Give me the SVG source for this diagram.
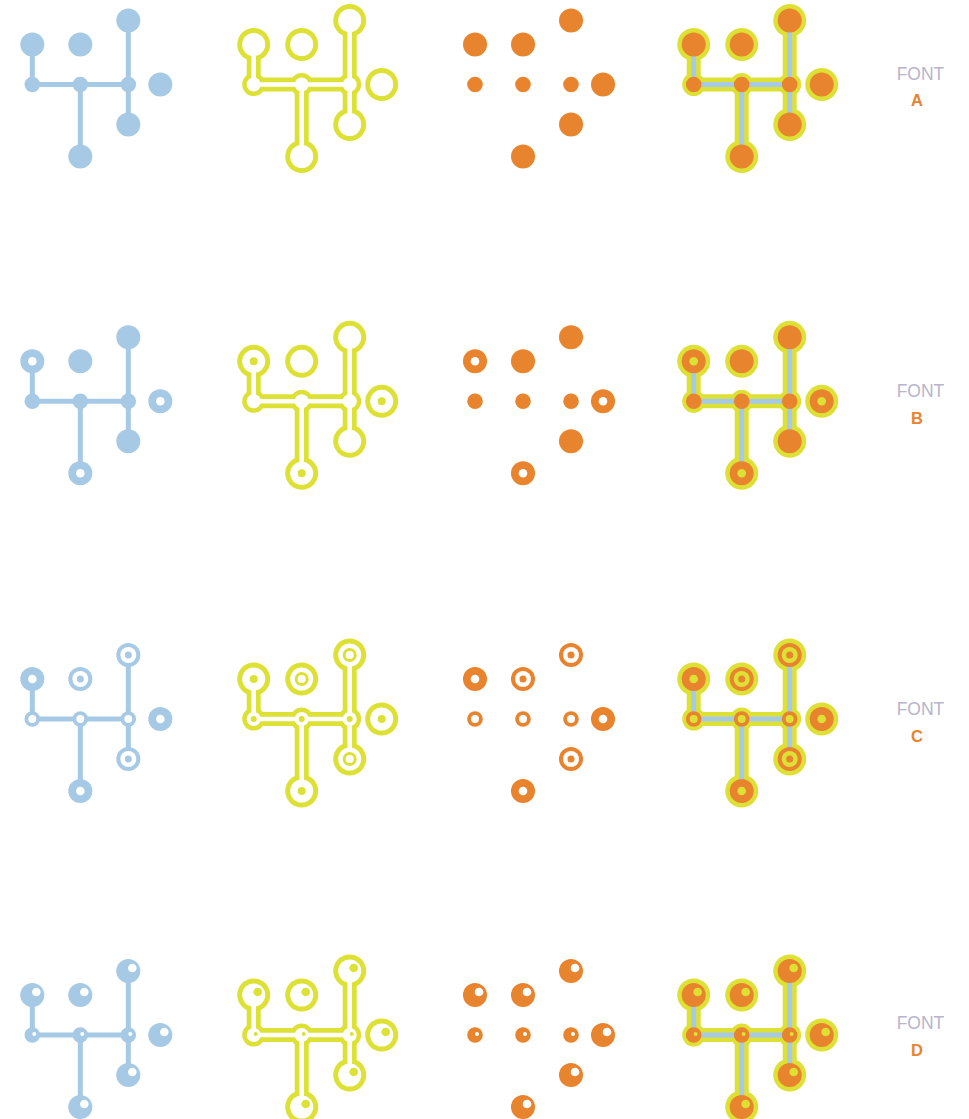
<svg xmlns="http://www.w3.org/2000/svg" xmlns:xlink="http://www.w3.org/1999/xlink" width="969" height="1119" viewBox="0 0 969 1119">
<style>
.bl{color:#a6c9e5;--h:#ffffff}
.or{color:#e8832e;--h:#ffffff}
.cb{color:#e8832e;--h:#dde135}
.yd{fill:#dde135}
.lbl{font-family:"Liberation Sans",Arial,sans-serif;font-size:17.5px;fill:#b8b4cc;text-anchor:middle}
.let{font-family:"Liberation Sans",Arial,sans-serif;font-size:16.5px;font-weight:bold;fill:#e8832e;text-anchor:middle}
</style>
<defs>
<g id="u">
<path d="M0,24V64M0,64H96M48,64V136M96,0V104" stroke="#dde135" stroke-width="14" fill="none"/>
<g fill="#dde135">
<circle cx="0" cy="24" r="16.5"/><circle cx="48" cy="24" r="16.5"/><circle cx="96" cy="0" r="16.5"/>
<circle cx="128" cy="64" r="16.5"/><circle cx="96" cy="104" r="16.5"/><circle cx="48" cy="136" r="16.5"/>
<circle cx="0" cy="64" r="11.5"/><circle cx="48" cy="64" r="11.5"/><circle cx="96" cy="64" r="11.5"/>
</g>
</g>
<g id="w">
<path d="M0,24V64M0,64H96M48,64V136M96,0V104" stroke="#ffffff" stroke-width="4.5" fill="none"/>
<g fill="#ffffff">
<circle cx="0" cy="24" r="11.5"/><circle cx="48" cy="24" r="11.5"/><circle cx="96" cy="0" r="11.5"/>
<circle cx="128" cy="64" r="11.5"/><circle cx="96" cy="104" r="11.5"/><circle cx="48" cy="136" r="11.5"/>
<circle cx="0" cy="64" r="7"/><circle cx="48" cy="64" r="7"/><circle cx="96" cy="64" r="7"/>
</g>
</g>
<path id="e" d="M0,24V64M0,64H96M48,64V136M96,0V104" stroke="#a6c9e5" stroke-width="5" fill="none"/>
<circle id="big" r="12" fill="currentColor"/>
<circle id="jn" r="7.8" fill="currentColor"/>
<g id="ring"><circle r="12" fill="currentColor"/><circle r="4.3" style="fill:var(--h)"/></g>
<g id="rdot"><circle r="12" fill="currentColor"/><circle r="8" style="fill:var(--h)"/><circle r="3.5" fill="currentColor"/></g>
<g id="jring"><circle r="7.8" fill="currentColor"/><circle r="4" style="fill:var(--h)"/></g>
<g id="hl"><circle r="12" fill="currentColor"/><circle cx="4" cy="-3" r="4.3" style="fill:var(--h)"/></g>
<g id="hlj"><circle r="7.8" fill="currentColor"/><circle cx="2" cy="-1" r="2" style="fill:var(--h)"/></g>
<circle id="yring" r="4" class="yd"/>
<circle id="yjr" r="3" class="yd"/>
<circle id="yrd" r="5.5" fill="none" stroke="#dde135" stroke-width="3"/>
<circle id="yhl" cx="4" cy="-3" r="4.3" class="yd"/>
<circle id="yhlj" cx="2" cy="-1" r="2" class="yd"/>
</defs>
<rect width="969" height="1119" fill="#ffffff"/>

<!-- ROW A -->
<g id="A-blue" class="bl" transform="translate(32.3,20.5)">
<g id="A-blue-connectors"><use href="#e"/></g>
<g id="A-blue-n1"><use href="#big" x="0" y="24"/></g>
<g id="A-blue-n2"><use href="#big" x="48" y="24"/></g>
<g id="A-blue-n3"><use href="#big" x="96" y="0"/></g>
<g id="A-blue-j1"><use href="#jn" x="0" y="64"/></g>
<g id="A-blue-j2"><use href="#jn" x="48" y="64"/></g>
<g id="A-blue-j3"><use href="#jn" x="96" y="64"/></g>
<g id="A-blue-n4"><use href="#big" x="128" y="64"/></g>
<g id="A-blue-n5"><use href="#big" x="96" y="104"/></g>
<g id="A-blue-n6"><use href="#big" x="48" y="136"/></g>
</g>
<g id="A-yellow" transform="translate(253.7,20.5)">
<g id="A-yellow-connectors"><use href="#u"/><use href="#w"/></g>
</g>
<g id="A-orange" class="or" transform="translate(475,20.5)">
<g id="A-orange-n1"><use href="#big" x="0" y="24"/></g>
<g id="A-orange-n2"><use href="#big" x="48" y="24"/></g>
<g id="A-orange-n3"><use href="#big" x="96" y="0"/></g>
<g id="A-orange-j1"><use href="#jn" x="0" y="64"/></g>
<g id="A-orange-j2"><use href="#jn" x="48" y="64"/></g>
<g id="A-orange-j3"><use href="#jn" x="96" y="64"/></g>
<g id="A-orange-n4"><use href="#big" x="128" y="64"/></g>
<g id="A-orange-n5"><use href="#big" x="96" y="104"/></g>
<g id="A-orange-n6"><use href="#big" x="48" y="136"/></g>
</g>
<g id="A-combined" class="cb" transform="translate(693.7,20.5)">
<g id="A-combined-connectors"><use href="#u"/><use href="#e"/></g>
<g id="A-combined-n1"><use href="#big" x="0" y="24"/></g>
<g id="A-combined-n2"><use href="#big" x="48" y="24"/></g>
<g id="A-combined-n3"><use href="#big" x="96" y="0"/></g>
<g id="A-combined-j1"><use href="#jn" x="0" y="64"/></g>
<g id="A-combined-j2"><use href="#jn" x="48" y="64"/></g>
<g id="A-combined-j3"><use href="#jn" x="96" y="64"/></g>
<g id="A-combined-n4"><use href="#big" x="128" y="64"/></g>
<g id="A-combined-n5"><use href="#big" x="96" y="104"/></g>
<g id="A-combined-n6"><use href="#big" x="48" y="136"/></g>
</g>
<g id="A-label"><text class="lbl" x="920.5" y="79.5">FONT</text><text class="let" x="917" y="106">A</text></g>

<!-- ROW B -->
<g id="B-blue" class="bl" transform="translate(32.3,337.3)">
<g id="B-blue-connectors"><use href="#e"/></g>
<g id="B-blue-n1"><use href="#ring" x="0" y="24"/></g>
<g id="B-blue-n2"><use href="#big" x="48" y="24"/></g>
<g id="B-blue-n3"><use href="#big" x="96" y="0"/></g>
<g id="B-blue-j1"><use href="#jn" x="0" y="64"/></g>
<g id="B-blue-j2"><use href="#jn" x="48" y="64"/></g>
<g id="B-blue-j3"><use href="#jn" x="96" y="64"/></g>
<g id="B-blue-n4"><use href="#ring" x="128" y="64"/></g>
<g id="B-blue-n5"><use href="#big" x="96" y="104"/></g>
<g id="B-blue-n6"><use href="#ring" x="48" y="136"/></g>
</g>
<g id="B-yellow" transform="translate(253.7,337.3)">
<g id="B-yellow-connectors"><use href="#u"/><use href="#w"/></g>
<g id="B-yellow-n1"><use href="#yring" x="0" y="24"/></g>
<g id="B-yellow-n4"><use href="#yring" x="128" y="64"/></g>
<g id="B-yellow-n6"><use href="#yring" x="48" y="136"/></g>
</g>
<g id="B-orange" class="or" transform="translate(475,337.3)">
<g id="B-orange-n1"><use href="#ring" x="0" y="24"/></g>
<g id="B-orange-n2"><use href="#big" x="48" y="24"/></g>
<g id="B-orange-n3"><use href="#big" x="96" y="0"/></g>
<g id="B-orange-j1"><use href="#jn" x="0" y="64"/></g>
<g id="B-orange-j2"><use href="#jn" x="48" y="64"/></g>
<g id="B-orange-j3"><use href="#jn" x="96" y="64"/></g>
<g id="B-orange-n4"><use href="#ring" x="128" y="64"/></g>
<g id="B-orange-n5"><use href="#big" x="96" y="104"/></g>
<g id="B-orange-n6"><use href="#ring" x="48" y="136"/></g>
</g>
<g id="B-combined" class="cb" transform="translate(693.7,337.3)">
<g id="B-combined-connectors"><use href="#u"/><use href="#e"/></g>
<g id="B-combined-n1"><use href="#ring" x="0" y="24"/></g>
<g id="B-combined-n2"><use href="#big" x="48" y="24"/></g>
<g id="B-combined-n3"><use href="#big" x="96" y="0"/></g>
<g id="B-combined-j1"><use href="#jn" x="0" y="64"/></g>
<g id="B-combined-j2"><use href="#jn" x="48" y="64"/></g>
<g id="B-combined-j3"><use href="#jn" x="96" y="64"/></g>
<g id="B-combined-n4"><use href="#ring" x="128" y="64"/></g>
<g id="B-combined-n5"><use href="#big" x="96" y="104"/></g>
<g id="B-combined-n6"><use href="#ring" x="48" y="136"/></g>
</g>
<g id="B-label"><text class="lbl" x="920.5" y="397">FONT</text><text class="let" x="917" y="424">B</text></g>

<!-- ROW C -->
<g id="C-blue" class="bl" transform="translate(32.3,655)">
<g id="C-blue-connectors"><use href="#e"/></g>
<g id="C-blue-n1"><use href="#ring" x="0" y="24"/></g>
<g id="C-blue-n2"><use href="#rdot" x="48" y="24"/></g>
<g id="C-blue-n3"><use href="#rdot" x="96" y="0"/></g>
<g id="C-blue-j1"><use href="#jring" x="0" y="64"/></g>
<g id="C-blue-j2"><use href="#jring" x="48" y="64"/></g>
<g id="C-blue-j3"><use href="#jring" x="96" y="64"/></g>
<g id="C-blue-n4"><use href="#ring" x="128" y="64"/></g>
<g id="C-blue-n5"><use href="#rdot" x="96" y="104"/></g>
<g id="C-blue-n6"><use href="#ring" x="48" y="136"/></g>
</g>
<g id="C-yellow" transform="translate(253.7,655)">
<g id="C-yellow-connectors"><use href="#u"/><use href="#w"/></g>
<g id="C-yellow-n1"><use href="#yring" x="0" y="24"/></g>
<g id="C-yellow-n2"><use href="#yrd" x="48" y="24"/></g>
<g id="C-yellow-n3"><use href="#yrd" x="96" y="0"/></g>
<g id="C-yellow-j1"><use href="#yjr" x="0" y="64"/></g>
<g id="C-yellow-j2"><use href="#yjr" x="48" y="64"/></g>
<g id="C-yellow-j3"><use href="#yjr" x="96" y="64"/></g>
<g id="C-yellow-n4"><use href="#yring" x="128" y="64"/></g>
<g id="C-yellow-n5"><use href="#yrd" x="96" y="104"/></g>
<g id="C-yellow-n6"><use href="#yring" x="48" y="136"/></g>
</g>
<g id="C-orange" class="or" transform="translate(475,655)">
<g id="C-orange-n1"><use href="#ring" x="0" y="24"/></g>
<g id="C-orange-n2"><use href="#rdot" x="48" y="24"/></g>
<g id="C-orange-n3"><use href="#rdot" x="96" y="0"/></g>
<g id="C-orange-j1"><use href="#jring" x="0" y="64"/></g>
<g id="C-orange-j2"><use href="#jring" x="48" y="64"/></g>
<g id="C-orange-j3"><use href="#jring" x="96" y="64"/></g>
<g id="C-orange-n4"><use href="#ring" x="128" y="64"/></g>
<g id="C-orange-n5"><use href="#rdot" x="96" y="104"/></g>
<g id="C-orange-n6"><use href="#ring" x="48" y="136"/></g>
</g>
<g id="C-combined" class="cb" transform="translate(693.7,655)">
<g id="C-combined-connectors"><use href="#u"/><use href="#e"/></g>
<g id="C-combined-n1"><use href="#ring" x="0" y="24"/></g>
<g id="C-combined-n2"><use href="#rdot" x="48" y="24"/></g>
<g id="C-combined-n3"><use href="#rdot" x="96" y="0"/></g>
<g id="C-combined-j1"><use href="#jring" x="0" y="64"/></g>
<g id="C-combined-j2"><use href="#jring" x="48" y="64"/></g>
<g id="C-combined-j3"><use href="#jring" x="96" y="64"/></g>
<g id="C-combined-n4"><use href="#ring" x="128" y="64"/></g>
<g id="C-combined-n5"><use href="#rdot" x="96" y="104"/></g>
<g id="C-combined-n6"><use href="#ring" x="48" y="136"/></g>
</g>
<g id="C-label"><text class="lbl" x="920.5" y="715">FONT</text><text class="let" x="917" y="742">C</text></g>

<!-- ROW D -->
<g id="D-blue" class="bl" transform="translate(32.3,971)">
<g id="D-blue-connectors"><use href="#e"/></g>
<g id="D-blue-n1"><use href="#hl" x="0" y="24"/></g>
<g id="D-blue-n2"><use href="#hl" x="48" y="24"/></g>
<g id="D-blue-n3"><use href="#hl" x="96" y="0"/></g>
<g id="D-blue-j1"><use href="#hlj" x="0" y="64"/></g>
<g id="D-blue-j2"><use href="#hlj" x="48" y="64"/></g>
<g id="D-blue-j3"><use href="#hlj" x="96" y="64"/></g>
<g id="D-blue-n4"><use href="#hl" x="128" y="64"/></g>
<g id="D-blue-n5"><use href="#hl" x="96" y="104"/></g>
<g id="D-blue-n6"><use href="#hl" x="48" y="136"/></g>
</g>
<g id="D-yellow" transform="translate(253.7,971)">
<g id="D-yellow-connectors"><use href="#u"/><use href="#w"/></g>
<g id="D-yellow-n1"><use href="#yhl" x="0" y="24"/></g>
<g id="D-yellow-n2"><use href="#yhl" x="48" y="24"/></g>
<g id="D-yellow-n3"><use href="#yhl" x="96" y="0"/></g>
<g id="D-yellow-j1"><use href="#yhlj" x="0" y="64"/></g>
<g id="D-yellow-j2"><use href="#yhlj" x="48" y="64"/></g>
<g id="D-yellow-j3"><use href="#yhlj" x="96" y="64"/></g>
<g id="D-yellow-n4"><use href="#yhl" x="128" y="64"/></g>
<g id="D-yellow-n5"><use href="#yhl" x="96" y="104"/></g>
<g id="D-yellow-n6"><use href="#yhl" x="48" y="136"/></g>
</g>
<g id="D-orange" class="or" transform="translate(475,971)">
<g id="D-orange-n1"><use href="#hl" x="0" y="24"/></g>
<g id="D-orange-n2"><use href="#hl" x="48" y="24"/></g>
<g id="D-orange-n3"><use href="#hl" x="96" y="0"/></g>
<g id="D-orange-j1"><use href="#hlj" x="0" y="64"/></g>
<g id="D-orange-j2"><use href="#hlj" x="48" y="64"/></g>
<g id="D-orange-j3"><use href="#hlj" x="96" y="64"/></g>
<g id="D-orange-n4"><use href="#hl" x="128" y="64"/></g>
<g id="D-orange-n5"><use href="#hl" x="96" y="104"/></g>
<g id="D-orange-n6"><use href="#hl" x="48" y="136"/></g>
</g>
<g id="D-combined" class="cb" transform="translate(693.7,971)">
<g id="D-combined-connectors"><use href="#u"/><use href="#e"/></g>
<g id="D-combined-n1"><use href="#hl" x="0" y="24"/></g>
<g id="D-combined-n2"><use href="#hl" x="48" y="24"/></g>
<g id="D-combined-n3"><use href="#hl" x="96" y="0"/></g>
<g id="D-combined-j1"><use href="#hlj" x="0" y="64"/></g>
<g id="D-combined-j2"><use href="#hlj" x="48" y="64"/></g>
<g id="D-combined-j3"><use href="#hlj" x="96" y="64"/></g>
<g id="D-combined-n4"><use href="#hl" x="128" y="64"/></g>
<g id="D-combined-n5"><use href="#hl" x="96" y="104"/></g>
<g id="D-combined-n6"><use href="#hl" x="48" y="136"/></g>
</g>
<g id="D-label"><text class="lbl" x="920.5" y="1029">FONT</text><text class="let" x="917" y="1056">D</text></g>
</svg>
